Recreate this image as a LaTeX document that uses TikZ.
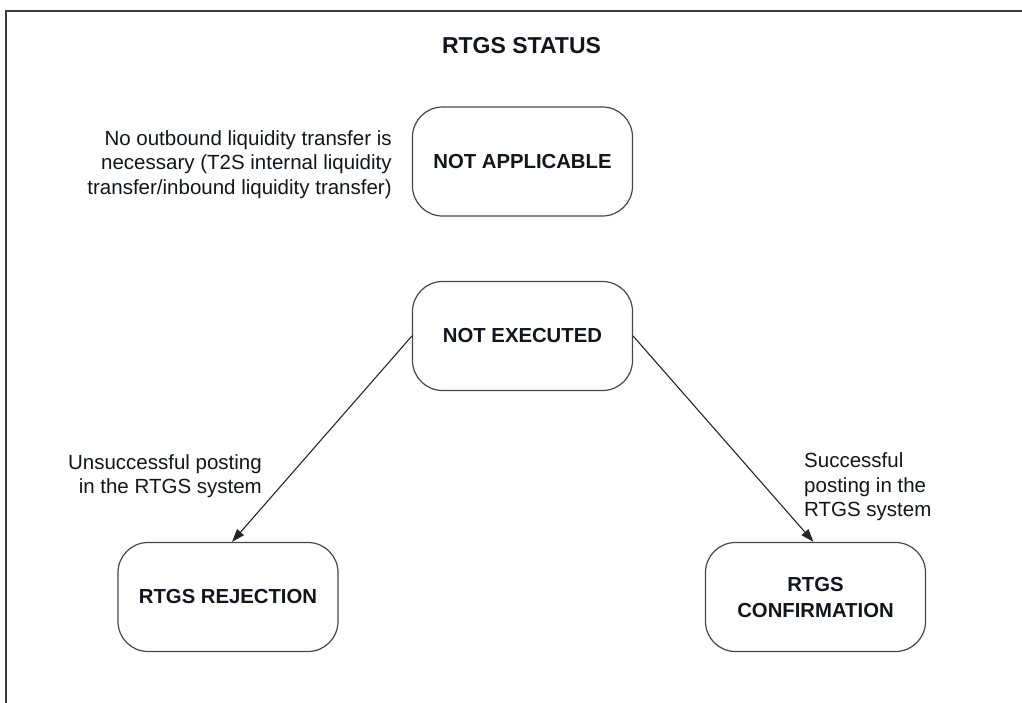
\documentclass[tikz,border=0pt]{standalone}
\usepackage{fontspec}
\setmainfont{Liberation Sans}
\usepackage{xcolor}
\usetikzlibrary{shapes.geometric, arrows.meta, positioning}
\definecolor{framegray}{RGB}{60,60,60}
\definecolor{boxgray}{RGB}{70,70,70}
\definecolor{textdark}{RGB}{20,20,30}
\tikzset{
  status/.style={rectangle, draw=boxgray, line width=1.2pt, fill=white,
                 minimum width=220pt, minimum height=109pt,
                 text centered, align=center, rounded corners=30pt,
                 text=textdark,
                 font=\fontsize{20.3}{26}\selectfont\bfseries},
  note/.style={inner sep=0pt, text=textdark,
               font=\fontsize{20.5}{24.5}\selectfont},
  arr/.style={-{Triangle[length=13pt, width=9pt]}, line width=1.1pt, color=black!85}
}
\begin{document}
\begin{tikzpicture}[x=1pt, y=-1pt]

  \useasboundingbox (0,0) rectangle (1022,702);

  % frame (cut at right and bottom)
  \draw[framegray, line width=2.6pt] (1030,11) -- (6,11) -- (6,710);

  % title
  \node[font=\fontsize{23}{26}\selectfont\bfseries, text=textdark]
    (title) at (521.5,46) {RTGS STATUS};

  % states
  \node[status] (napp) at (522.5,161.5) {NOT APPLICABLE};
  \node[status] (nexe) at (522.5,336)   {NOT EXECUTED};
  \node[status] (rej)  at (228,597)     {RTGS REJECTION};
  \node[status] (conf) at (815.5,597)   {RTGS\\CONFIRMATION};

  % notes
  \node[note, align=right, left=20pt of napp, yshift=-3pt]
    (nappnote) {No outbound liquidity transfer is\\
                necessary (T2S internal liquidity\\
                transfer/inbound liquidity transfer)};
  \node[note, align=right, anchor=east] (rejnote) at (262,476)
    {Unsuccessful posting\\in the RTGS system};
  \node[note, align=left, anchor=west] (confnote) at (804,487)
    {Successful\\posting in the\\RTGS system};

  % arrows
  \draw[arr] (nexe.west) -- ([xshift=4pt]rej.north);
  \draw[arr] (nexe.east) -- ([xshift=-2pt]conf.north);

\end{tikzpicture}
\end{document}
